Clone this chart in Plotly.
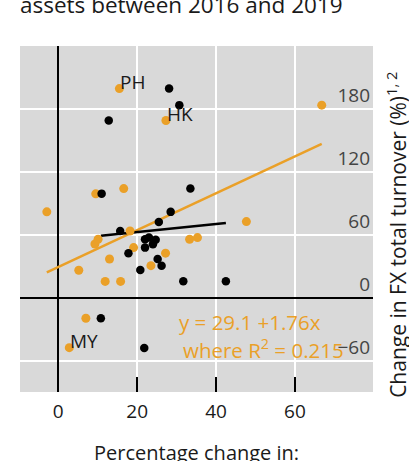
import plotly.graph_objects as go

# Data
orange_x = [-2.9, 15.5, 27.3, 66.8, 9.5, 16.6, 18.2, 10.1, 9.3, 19.1, 13.0, 5.2,
            23.5, 27.2, 33.3, 35.3, 11.9, 15.8, 47.7, 7.0, 2.8]
orange_y = [81.8, 199.4, 168.9, 183.6, 99.0, 104.0, 63.6, 55.7, 51.2, 47.7, 36.9, 26.1,
            30.5, 42.4, 55.7, 57.3, 15.5, 15.5, 72.5, -19.7, -47.7]
black_x = [28.1, 30.7, 12.8, 11.0, 33.5, 28.5, 25.5, 15.7, 22.0, 23.0, 24.7, 24.0,
           22.0, 17.8, 25.2, 26.2, 20.8, 31.7, 42.5, 10.8, 21.8]
black_y = [199.4, 183.6, 168.9, 99.2, 104.0, 81.8, 72.2, 63.6, 55.7, 57.3, 55.3, 51.0,
           47.7, 42.4, 36.9, 30.5, 26.4, 15.6, 15.6, -19.7, -48.0]

orange_intercept, orange_slope = 29.1, 1.76
black_intercept, black_slope = 54.8, 0.386

labels = ["PH", "HK", "MY"]
label_x = [15.5, 27.3, 2.8]
label_y = [199.4, 168.9, -47.7]

x_ticks = [0, 20, 40, 60]
y_ticks = [-60, 0, 60, 120, 180]

ORANGE = "#EAA028"
FONT = "Open Sans"
TXT = "#1a1a1a"

ox = [min(orange_x), max(orange_x)]
oy = [orange_intercept + orange_slope * v for v in ox]
bx = [min(black_x), max(black_x)]
by = [black_intercept + black_slope * v for v in bx]

fig = go.Figure()
fig.add_trace(go.Scatter(x=ox, y=oy, mode="lines", line=dict(color=ORANGE, width=2.5),
                         hoverinfo="skip", showlegend=False))
fig.add_trace(go.Scatter(x=bx, y=by, mode="lines", line=dict(color="black", width=2.5),
                         hoverinfo="skip", showlegend=False))
fig.add_trace(go.Scatter(x=orange_x, y=orange_y, mode="markers",
                         marker=dict(color=ORANGE, size=9), showlegend=False))
fig.add_trace(go.Scatter(x=black_x, y=black_y, mode="markers",
                         marker=dict(color="black", size=8.5), showlegend=False))

for t, lx, ly in zip(labels, label_x, label_y):
    fig.add_annotation(x=lx, y=ly, text=t, showarrow=False, xanchor="left",
                       yanchor="middle", yshift=7, xshift=-1,
                       font=dict(size=19, color=TXT))

fig.add_annotation(x=48.5, y=-23, text="y = 29.1 +1.76x", showarrow=False,
                   xanchor="center", yanchor="middle", font=dict(size=20.5, color=ORANGE))
fig.add_annotation(x=52.1, y=-49, text="where R<sup>2</sup> = 0.215", showarrow=False,
                   xanchor="center", yanchor="middle", font=dict(size=20.5, color=ORANGE))

# cropped title at the top (its upper lines fall outside the picture, as in the reference)
fig.add_annotation(xref="paper", yref="paper", x=-0.006, y=1.121, xanchor="left",
                   yanchor="middle", text="assets between 2016 and 2019", showarrow=False,
                   font=dict(size=22.5, color=TXT))
# axis titles
fig.add_annotation(xref="paper", yref="paper", x=0.5, y=-0.176, xanchor="center",
                   yanchor="middle", text="Percentage change in:", showarrow=False,
                   font=dict(size=20, color=TXT))
fig.add_annotation(xref="paper", yref="paper", x=1.066, y=0.455, xanchor="center",
                   yanchor="middle", textangle=-90,
                   text="Change in FX total turnover (%)<sup>1, 2</sup>", showarrow=False,
                   font=dict(size=21, color=TXT))

fig.update_layout(
    width=409, height=461,
    margin=dict(l=20, r=36, t=46, b=69),
    plot_bgcolor="#d9d9d9", paper_bgcolor="white",
    font=dict(family=FONT, size=19, color=TXT),
    xaxis=dict(range=[-9.7, 79.8], tickvals=x_ticks, showgrid=True, gridcolor="white",
               gridwidth=1.5, zeroline=True, zerolinecolor="black", zerolinewidth=1.5,
               ticks="inside", ticklen=15, tickwidth=1.5, tickcolor="black",
               ticklabelstandoff=6, tickfont=dict(size=19), fixedrange=True),
    yaxis=dict(range=[-90, 240], tickvals=y_ticks, side="right", showgrid=True,
               gridcolor="white", gridwidth=1.5, zeroline=True, zerolinecolor="black",
               zerolinewidth=1.5, ticklabelposition="inside top", ticks="",
               tickfont=dict(size=19), fixedrange=True),
)

fig.write_html("out.html")
